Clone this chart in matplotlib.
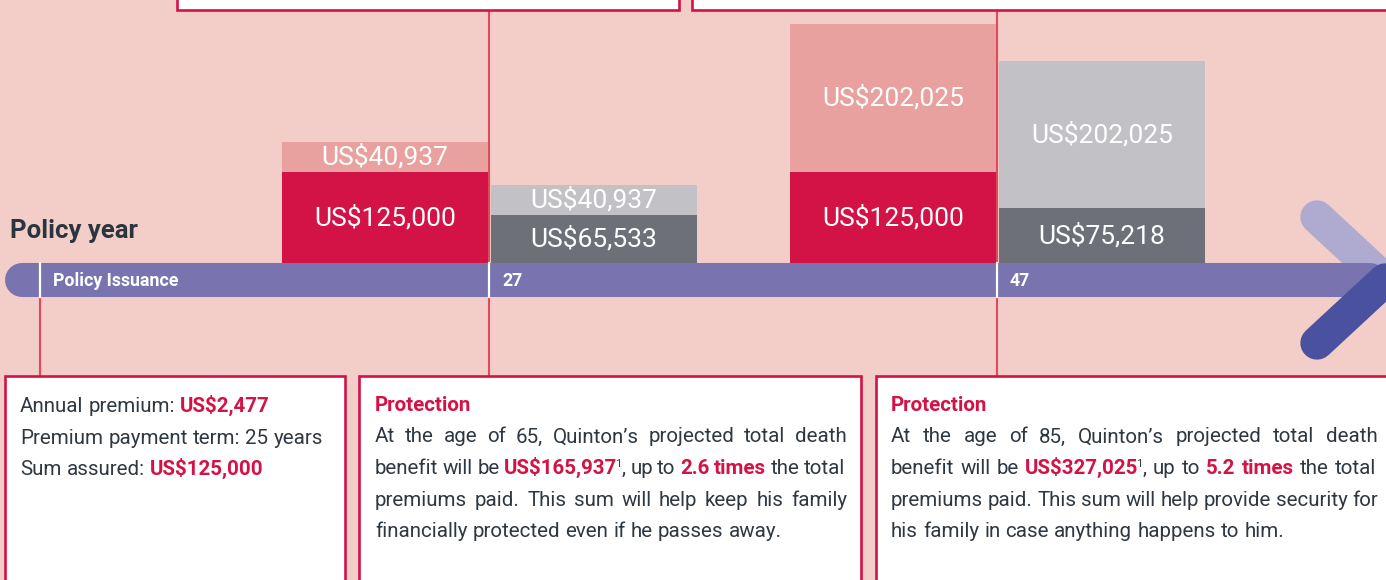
import matplotlib
matplotlib.use("Agg")
import matplotlib.pyplot as plt
from matplotlib.patches import Rectangle

W, H = 1386, 580
BG = "#F3CDC8"
CRIMSON = "#D31245"
LINE_RED = "#DE4B5D"
PINK = "#E9A19F"
LIGHT_GREY = "#C2C1C6"
DARK_GREY = "#6D7079"
PURPLE = "#7974AF"
ARROW_LIGHT = "#AFAACF"
ARROW_DARK = "#4A529F"
TEXT = "#2E3842"
NARROW = ["Roboto", "DejaVu Sans"]

# ---------------------------------------------------------------
# data
# ---------------------------------------------------------------
milestones = ["Policy Issuance", "27", "47"]
bar_milestones = ["27", "47"]
death_base = [125000, 125000]
death_bonus = [40937, 202025]
cash_base = [65533, 75218]
cash_bonus = [40937, 202025]

# layout (pixels)
milestone_x = {"Policy Issuance": 40, "27": 489, "47": 997}
BAR_W = 206
TL_TOP, TL_BOT = 263, 297
PX_PER_USD = 0.00073

fig = plt.figure(figsize=(W / 100, H / 100), dpi=100)
fig.patch.set_facecolor(BG)
ax = fig.add_axes([0, 0, 1, 1])
ax.set_xlim(0, W)
ax.set_ylim(H, 0)
ax.axis("off")
renderer = fig.canvas.get_renderer()

# top (cut off) boxes
for x0, x1 in [(177, 679), (692, 1420)]:
    ax.add_patch(Rectangle((x0, -60), x1 - x0, 70, facecolor="white",
                           edgecolor=CRIMSON, lw=1.9, zorder=2))
# bottom boxes
for x0, x1 in [(5, 345), (359, 861), (876, 1420)]:
    ax.add_patch(Rectangle((x0, 376), x1 - x0, 260, facecolor="white",
                           edgecolor=CRIMSON, lw=1.9, zorder=2))

# connector lines
ax.plot([40, 40], [TL_BOT, 376], color=LINE_RED, lw=1.5, zorder=1)
for m in bar_milestones:
    ax.plot([milestone_x[m]] * 2, [10, 376], color=LINE_RED, lw=1.5, zorder=1)

# timeline + chevron
tl_y = (TL_TOP + TL_BOT) / 2
ax.plot([1317, 1385], [217, 280], color=ARROW_LIGHT, lw=24, solid_capstyle="round", zorder=3)
ax.plot([22, 1370], [tl_y, tl_y], color=PURPLE, lw=24.5, solid_capstyle="round", zorder=4)
ax.plot([1317, 1385], [343, 280], color=ARROW_DARK, lw=24, solid_capstyle="round", zorder=6)
for m in milestones:
    mx = milestone_x[m]
    ax.plot([mx, mx], [TL_TOP, TL_BOT], color="white", lw=1.6, zorder=5)
    ax.text(mx + 13, tl_y + 1, m, color="white", fontsize=12.8, fontweight="bold",
            family=NARROW, va="center", ha="left", zorder=5)

ax.text(10, 231, "Policy year", color="#2A3540", fontsize=18.5, fontweight="bold",
        family="Roboto", va="center", ha="left")

# ---------------------------------------------------------------
# stacked bars
# ---------------------------------------------------------------
bax = fig.add_axes([0, (H - TL_TOP) / H, 1, TL_TOP / H])
bax.set_xlim(0, W)
bax.set_ylim(0, TL_TOP / PX_PER_USD)
bax.axis("off")
bax.patch.set_alpha(0)

death_x = [milestone_x[m] - 1 - BAR_W / 2 for m in bar_milestones]
cash_x = [milestone_x[m] + 2 + BAR_W / 2 for m in bar_milestones]
bax.bar(death_x, death_base, width=BAR_W, color=CRIMSON)
bax.bar(death_x, death_bonus, bottom=death_base, width=BAR_W, color=PINK)
bax.bar(cash_x, cash_base, width=BAR_W, color=DARK_GREY)
bax.bar(cash_x, cash_bonus, bottom=cash_base, width=BAR_W, color=LIGHT_GREY)

for xs, base, top in [(death_x, death_base, death_bonus), (cash_x, cash_base, cash_bonus)]:
    for x, b, t in zip(xs, base, top):
        bax.text(x, b / 2, f"US${b:,}", color="white", fontsize=19, family=NARROW,
                 ha="center", va="center")
        bax.text(x, b + t / 2, f"US${t:,}", color="white", fontsize=19, family=NARROW,
                 ha="center", va="center")

# ---------------------------------------------------------------
# box text (with justification)
# ---------------------------------------------------------------
BODY = 14.8
STY = {
    "n": dict(color=TEXT, fontweight="normal", fontsize=BODY),
    "r": dict(color=CRIMSON, fontweight="bold", fontsize=BODY),
    "s": dict(color=TEXT, fontweight="normal", fontsize=BODY * 0.55),
}


def width(s, st):
    t = ax.text(0, 0, s, family=NARROW, **STY[st])
    w = t.get_window_extent(renderer).width
    t.remove()
    return w


def tokenize(runs):
    tokens = [[]]
    for text, st in runs:
        for i, p in enumerate(text.split(" ")):
            if i > 0:
                tokens.append([])
            if p:
                tokens[-1].append((p, st))
    return [t for t in tokens if t]


def draw_line(x0, x1, y, runs, justify=False):
    tokens = tokenize(runs)
    widths = [[width(p, st) for p, st in tok] for tok in tokens]
    total = sum(sum(w) for w in widths)
    space = width("a a", "n") - width("aa", "n")
    if justify and len(tokens) > 1:
        space = (x1 - x0 - total) / (len(tokens) - 1)
    x = x0
    for tok, ws in zip(tokens, widths):
        for (p, st), w in zip(tok, ws):
            yy = y
            if st == "s":
                yy = y - 7
                x -= 2
            ax.text(x, yy, p, family=NARROW, ha="left", va="baseline", zorder=3, **STY[st])
            x += w
        x += space


box_a = [
    [("Annual premium: ", "n"), ("US$2,477", "r")],
    [("Premium payment term: 25 years", "n")],
    [("Sum assured: ", "n"), ("US$125,000", "r")],
]
box_b = [
    [("Protection", "r")],
    [("At the age of 65, Quinton\u2019s projected total death", "n")],
    [("benefit will be ", "n"), ("US$165,937", "r"), ("1", "s"), (", up to ", "n"),
     ("2.6 times", "r"), (" the total", "n")],
    [("premiums paid. This sum will help keep his family", "n")],
    [("financially protected even if he passes away.", "n")],
]
box_c = [
    [("Protection", "r")],
    [("At the age of 85, Quinton\u2019s projected total death", "n")],
    [("benefit will be ", "n"), ("US$327,025", "r"), ("1", "s"), (", up to ", "n"),
     ("5.2 times", "r"), (" the total", "n")],
    [("premiums paid. This sum will help provide security for", "n")],
    [("his family in case anything happens to him.", "n")],
]

LINE_H = 31.5
for i, runs in enumerate(box_a):
    draw_line(20, 330, 412 + i * LINE_H, runs)
for lines, x0, x1 in [(box_b, 375, 847), (box_c, 891, 1378)]:
    for i, runs in enumerate(lines):
        just = 0 < i < len(lines) - 1
        draw_line(x0, x1, 411 + i * LINE_H, runs, justify=just)

fig.savefig("out.png", dpi=100, facecolor=BG)
